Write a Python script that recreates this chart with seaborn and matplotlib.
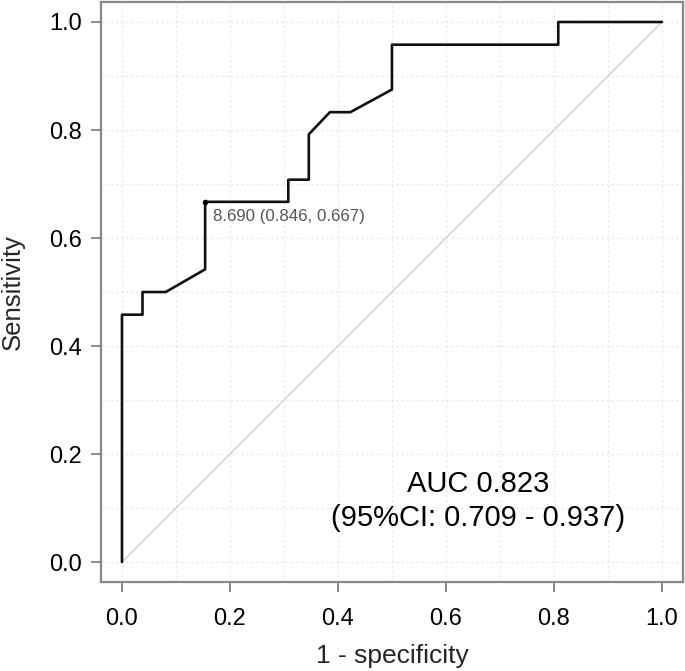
import matplotlib
matplotlib.use("Agg")
import matplotlib.pyplot as plt
import seaborn as sns
import pandas as pd
import numpy as np

# ROC curve data (1 - specificity, sensitivity)
fpr = [0.0, 0.0, 0.038, 0.038, 0.081, 0.154, 0.154, 0.308, 0.308, 0.346, 0.346,
       0.385, 0.423, 0.5, 0.5, 0.808, 0.808, 1.0]
tpr = [0.0, 0.458, 0.458, 0.5, 0.5, 0.542, 0.667, 0.667, 0.708, 0.708, 0.792,
       0.833, 0.833, 0.875, 0.958, 0.958, 1.0, 1.0]
best_threshold = 8.690
best_spec = 0.846
best_sens = 0.667
auc_text = "AUC 0.823\n(95%CI: 0.709 - 0.937)"
ticks = [0.0, 0.2, 0.4, 0.6, 0.8, 1.0]
tick_labels = ["0.0", "0.2", "0.4", "0.6", "0.8", "1.0"]

sns.set_style("white")
plt.rcParams['font.family'] = ['Liberation Sans', 'DejaVu Sans']

fig = plt.figure(figsize=(6.85, 6.71), dpi=100)
ax = fig.add_axes([0.1474, 0.1326, 0.997 - 0.1474, 0.997 - 0.1326])

# grid
for v in np.arange(0, 1.01, 0.1):
    ax.axvline(v, color="#e2e2e2", lw=0.9, ls=(0, (1.5, 2.5)), zorder=0)
    ax.axhline(v, color="#e2e2e2", lw=0.9, ls=(0, (1.5, 2.5)), zorder=0)

ax.plot([0, 1], [0, 1], color="#d0d0d0", lw=1.0, zorder=1)

df = pd.DataFrame({"fpr": fpr, "tpr": tpr})
sns.lineplot(data=df, x="fpr", y="tpr", sort=False, estimator=None,
             color="#111111", lw=1.9, ax=ax, zorder=3)

ax.plot([1 - best_spec], [best_sens], "o", color="black", ms=3, zorder=4)
ax.text(1 - best_spec + 0.014, best_sens - 0.028,
        f"{best_threshold:.3f} ({best_spec:.3f}, {best_sens:.3f})",
        fontsize=12.2, color="#555555", ha="left", va="center")

ax.text(0.659, 0.113, auc_text, fontsize=21, ha="center", va="center",
        linespacing=1.28, color="black")

ax.set_xlim(-0.0389, 1.0389)
ax.set_ylim(-0.037, 1.037)
ax.set_xticks(ticks)
ax.set_xticklabels(tick_labels)
ax.set_yticks(ticks)
ax.set_yticklabels(tick_labels)
ax.tick_params(axis="both", which="major", direction="out", length=7, width=1.2,
               color="#777777", labelsize=17, labelcolor="black",
               bottom=True, left=True)
ax.tick_params(axis="x", pad=12)
ax.tick_params(axis="y", pad=7)
for s in ax.spines.values():
    s.set_color("#888888")
    s.set_linewidth(1.6)
ax.set_xlabel("1 - specificity", fontsize=19, labelpad=10)
ax.set_ylabel("Sensitivity", fontsize=18.5, labelpad=17)

fig.savefig("out.png", dpi=100)
